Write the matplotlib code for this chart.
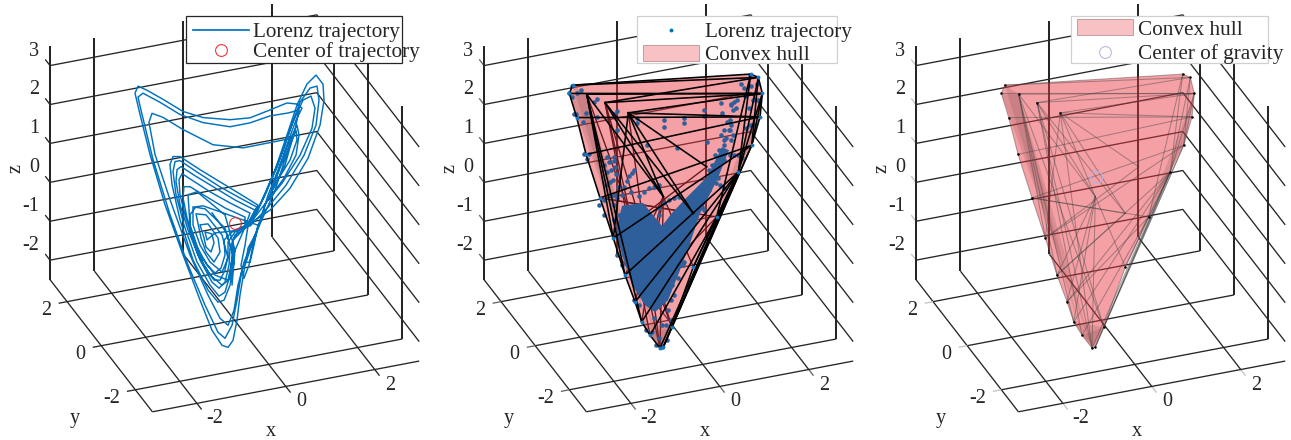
import matplotlib
matplotlib.use("Agg")
import matplotlib.pyplot as plt
from matplotlib.lines import Line2D
from matplotlib.patches import Patch, Rectangle
from matplotlib.transforms import Bbox, TransformedBbox
from mpl_toolkits.mplot3d import proj3d
from mpl_toolkits.mplot3d.art3d import Poly3DCollection

plt.rcParams['font.family'] = ['Liberation Serif', 'DejaVu Serif']

# ---- axis set-up values
x_ticks = [-2, 0, 2]
y_ticks = [-2, 0, 2]
z_ticks = [-2, -1, 0, 1, 2, 3]
x_lim = (-3, 3)
y_lim = (-3, 3)
z_lim = (-2.5, 3.5)

# ---- trajectory (read from the single view; depth y cannot be read, so y = 0)
traj_x = [.346,-.058,-.441,-.621,-.666,-.508,-.463,-.531,-.643,-.688,-.778,-.598,-.373,-.328,-.463,-.643,-.756,-.868,-.643,-.283,
          -.148,-.283,-.553,-.778,-.936,-.936,-.666,-.216,-.036,-.148,-.441,-.778,-1.003,-1.048,-.846,-.216,.009,-.058,-.036,.234,
          .234,-.216,-.666,-1.003,-1.139,-1.161,-1.071,-.868,-.621,-.441,-.306,-.216,-.238,-.058,.234,
          .346,-.103,-.553,-.936,-1.183,-1.250,-1.228,-1.116,-.936,-.688,-.463,-.328,-.216,-.148,-.148,.009,.301,
          .459,.009,-.441,-.891,-1.205,-1.295,-1.318,-1.228,-1.048,-.778,-.508,-.351,-.216,-.126,-.103,.009,.346,
          .504,.121,-.328,-.823,-1.228,-1.340,-1.385,-1.318,-1.139,-.846,-.553,-.351,-.216,-.103,-.058,-.036,.234,
          .526,.234,-.216,-.778,-1.228,-1.385,-1.453,-1.408,-1.228,-.936,-.598,-.373,-.238,-.103,-.013,-.036,.121,.391,
          .616,.909,1.178,1.403,1.628,1.831,1.988,2.011,1.921,1.651,1.246,.796,.391,
          .684,.976,1.246,1.471,1.696,1.853,1.898,1.831,1.561,1.156,.751,.346,
          .706,1.044,1.313,1.538,1.718,1.808,1.741,1.471,1.066,.661,.301,
          .234,.144,.211,.324,.414,.526,
          .751,1.021,1.246,1.403,1.448,1.381,1.111,.751,
          1.021,1.246,1.381,1.403,1.246,1.021,.841,1.133,1.381,1.516,1.403,
          1.178,.796,.346,-.103,-.711,-1.161,-1.611,-1.971,-2.173,-2.240,
          -2.128,-1.903,-1.566,-1.161,-.778,-.508,-.283,-.148,-.036,.054,.121,.234,.459,.684,1.133,1.358,1.448,
          1.201,.796,.346,-.103,-.711,-1.228,-1.678,-2.060,-2.173,-2.083,-1.835,-1.453,-1.048,-.666,-.373,-.216,-.058,.054,.166,.459,.909,1.201,1.291,
          .864,.189,-.486,-1.161,-1.611,-1.858,-1.926,-1.790,-1.453,-1.003,-.598,-.328,-.148,-.013,.076,.211,.459,
          .301,.256,.346,.436,.526,
          -.711,-.868,-1.003,-1.003,-.823,-.553,-.283,-.081,-.013,-.193,-.508]
traj_z = [-.103,-.193,-.159,-.299,-.083,-.170,-.412,-.628,-.474,-.232,.123,.109,-.303,-.674,-.902,-.603,-.217,.426,.350,-.246,
          -.869,-1.199,-.881,-.393,.158,.622,.510,-.081,-.816,-1.436,-1.242,-.650,.173,.956,.988,.254,-.698,-1.584,-.816,-.155,
          .103,.435,.845,1.152,1.182,.904,.368,-.373,-.943,-1.190,-1.091,-.776,-.385,-.219,-.155,
          .180,.539,.923,1.292,1.527,1.387,.996,.455,-.229,-.928,-1.366,-1.396,-1.163,-.791,-.456,-.234,-.144,
          .232,.591,1.000,1.410,1.712,1.655,1.351,.738,.054,-.779,-1.407,-1.597,-1.472,-1.054,-.621,-.311,-.129,
          .300,.618,1.001,1.473,1.872,1.871,1.624,1.016,.203,-.816,-1.473,-1.803,-1.730,-1.317,-.811,-.430,-.181,
          .346,.618,1.028,1.540,1.975,2.010,1.820,1.295,.352,-.744,-1.592,-1.953,-1.931,-1.574,-1.002,-.430,-.156,-.062,
          .455,1.163,2.005,2.727,3.218,3.405,3.138,2.721,2.097,1.306,.623,.157,-.062,
          .569,1.277,2.118,2.789,3.100,3.117,2.746,2.117,1.404,.722,.245,-.155,
          .641,1.520,2.309,2.826,2.889,2.560,2.059,1.424,.793,.316,-.144,
          -.619,-1.114,-1.464,-1.154,-.660,-.247,
          .554,1.267,1.860,2.212,1.944,1.444,.912,.425,
          1.190,1.731,2.088,1.825,1.345,.983,.663,1.628,2.346,2.625,2.753,
          2.830,2.734,2.628,2.678,2.865,3.120,3.530,3.842,3.990,3.825,
          3.258,2.178,.814,-.565,-1.810,-2.644,-3.081,-3.162,-3.007,-2.511,-1.882,-1.134,-.412,.311,1.242,2.093,2.588,
          2.567,2.580,2.499,2.497,2.736,3.057,3.468,3.785,3.707,3.248,2.034,.531,-.848,-1.964,-2.726,-2.915,-2.615,-1.996,-1.248,-.412,.648,1.613,1.902,
          1.895,1.891,2.118,2.656,3.066,3.224,3.007,2.153,.918,-.600,-1.721,-2.375,-2.595,-2.239,-1.614,-1.052,-.412,
          -.711,-1.062,-1.083,-.665,-.169,
          .597,.607,.430,-.008,-.640,-1.216,-1.534,-1.399,-.899,-.189,.371]
traj_y = [0.0] * len(traj_x)

# ---- dense core of the sampled trajectory (panel 2)
core_x = [-1.048,-.576,-.148,.076,.414,.864,1.201,1.358,1.089,.706,.481,.256,-.013,-.306,-.531,-.823,-1.048,-1.186]
core_z = [.672,.645,-.044,.241,.577,.993,1.691,1.577,.865,.090,-.623,-1.268,-1.981,-2.225,-1.994,-1.413,-.590,.032]

# ---- convex hull vertices
hull_x = [-2.157,-2.233,-2.067,-1.857,-1.543,-1.244,-.981,-.756,-.605,-.418,-.193,-.119,.070,.556,1.082,1.568,1.869,2.056,2.108,2.018,1.846,
          -1.842,-1.430,-.906,.857,-.119,.556]
hull_z = [4.013,3.816,3.160,2.168,.982,-.116,-1.121,-1.859,-2.408,-2.793,-3.170,-3.160,-2.688,-1.250,-.079,.972,1.592,2.281,2.872,3.304,3.427,
          3.711,3.405,3.029,1.259,.705,.126]
hull_y = [0.0] * len(hull_x)
hull_outline = [0,1,2,3,4,5,6,7,8,9,10,11,12,13,14,15,16,17,18,19,20]
hull_shade_faces = [(1,21,10), (0,21,9), (18,16,12), (17,15,11), (8,12,10), (9,12,11)]
hull_front_edges = [(0,20),(0,19),(1,18),(1,0),(22,18),(22,19),(23,18),(2,17),(23,17),(21,18),
                    (3,17),(4,16),(5,16),(6,15),(7,15),(8,15),(9,14),
                    (21,25),(21,6),(22,25),(22,26),(23,24),(23,26),(23,25),(23,5),(21,5),(21,8),
                    (1,2),(2,3),(3,4),(4,5),(5,6),(6,7),(7,8),(8,9),(9,10),(10,11),(11,12),(12,13),(13,14),(14,15),
                    (11,16),(12,15),(10,15),(11,15),(12,16),(13,15),
                    (15,19),(15,20),(15,18),(16,18),(16,19),(14,20),(16,17),(17,18),(18,19),(19,20)]
hull_back_edges = [(5,24),(4,26),(6,26),(7,14),(25,13),(8,25),(4,14),(6,25),(7,25),(21,12),(22,12),(22,10),(23,10),(25,10),(22,9)]

# ---- centres
traj_center = (0.0, 0.0, 0.0)
gravity_center = (-0.10, 0.0, 1.20)

# ---- labels
label_traj = 'Lorenz trajectory'
label_center = 'Center of trajectory'
label_hull = 'Convex hull'
label_gravity = 'Center of gravity'

FIG_W, FIG_H = 1291, 440
AX_PX = 430
OFFSETS = [0, 434, 866]
CLIP_R = [421, 857, 1288]
STUB = ['#262626', '#666666', '#c4c4c4']
INK = '#262626'
BLUE = '#0072BD'
HULL_FACE = (0.918, 0.208, 0.251, 0.47)
HULL_LEG = (0.918, 0.208, 0.251, 0.30)
FS_TICK = 14.6
FS_LEG = 15.3

fig = plt.figure(figsize=(FIG_W/100, FIG_H/100), dpi=100, facecolor='white')


def make_axes(o):
    cx, cy = 234.6 + o, 203.6
    left = cx - 0.5135*AX_PX
    bottom = cy + 0.5135*AX_PX
    ax = fig.add_axes([left/FIG_W, 1-bottom/FIG_H, AX_PX/FIG_W, AX_PX/FIG_H],
                      projection='3d', proj_type='ortho', computed_zorder=False)
    ax.patch.set_alpha(0)
    ax.set_xlim(*x_lim); ax.set_ylim(*y_lim); ax.set_zlim(*z_lim)
    ax.view_init(elev=29.7, azim=-111)
    asp = (1.0, 1.0, 44.8/47.63)
    ax.set_box_aspect(asp, zoom=1)
    L = ax._box_aspect[0]
    ax.set_box_aspect(asp, zoom=(47.63*6*1.85/AX_PX)/L)
    ax.set_axis_off()
    ax.apply_aspect()
    return ax


def screen(ax, x, y, z):
    X, Y, _ = proj3d.proj_transform(x, y, z, ax.get_proj())
    return ax.transData.transform((X, Y))


def put(ax, x, y, z, dx, dy, s, **kw):
    # dx, dy in pixels (dy downwards) from the projected tick position
    p = screen(ax, x, y, z)
    fig.text((p[0]+dx)/FIG_W, (p[1]-dy)/FIG_H, s, fontsize=FS_TICK, color=INK, **kw)


def grid(ax, o, clip_r, stub):
    clip = TransformedBbox(Bbox([[0, 0], [clip_r/FIG_W, 1]]), fig.transFigure)
    xa, xb = x_lim; ya, yb = y_lim; za, zb = z_lim
    def ln(X, Y, Z, lw=0.95, c=INK):
        l, = ax.plot(X, Y, Z, color=c, lw=lw, zorder=1, solid_capstyle='butt')
        l.set_clip_path(None); l.set_clip_box(clip); l.set_clip_on(True)
    for z in z_ticks:
        ln([xa, xb, xb], [yb, yb, ya], [z, z, z])
        ln([xa, xa], [yb, yb+0.28], [z, z], c=stub)
    for x in [xa] + x_ticks:
        ln([x, x], [yb, ya], [za, za])
    for x in x_ticks:
        ln([x, x], [ya, ya-0.28], [za, za], c=stub)
    for y in y_ticks + [ya]:
        ln([xa, xb], [y, y], [za, za])
    for y in y_ticks:
        ln([xa, xa-0.19], [y, y], [za, za], c=stub)
    for x in [xa] + x_ticks:
        ln([x, x], [yb, yb], [za, zb], lw=1.45)
    for y in y_ticks:
        ln([xb, xb], [y, y], [za, zb], lw=1.45)
    # tick labels and axis labels
    for z in z_ticks:
        put(ax, xa, yb, z, -11, -14.5, str(z), ha='right', va='center')
    for y in y_ticks:
        put(ax, xa, y, za, -15.5, 9, str(y), ha='right', va='center')
    for x in x_ticks:
        put(ax, x, ya, za, 15 if x > -2 else 18, 15.5, str(x), ha='center', va='center')
    fig.text((270.7+o)/FIG_W, 1-431/FIG_H, 'x', ha='center', va='center', fontsize=FS_TICK, color=INK)
    fig.text((75+o)/FIG_W, 1-418/FIG_H, 'y', ha='center', va='center', fontsize=FS_TICK, color=INK)
    fig.text((16+o)/FIG_W, 1-168/FIG_H, 'z', ha='center', va='center', rotation=90, fontsize=FS_TICK, color=INK)


def hull_vert(i):
    return (hull_x[i], hull_y[i], hull_z[i])


def draw_hull(ax, z=3):
    outline = [hull_vert(i) for i in hull_outline]
    ax.add_collection3d(Poly3DCollection([outline], facecolor=HULL_FACE, edgecolor='none', zorder=z))
    shade = [[hull_vert(i) for i in f] for f in hull_shade_faces]
    ax.add_collection3d(Poly3DCollection(shade, facecolor=(0.45, 0.25, 0.25, 0.18), edgecolor='none', zorder=z+0.1))


def draw_edges(ax, edges, **kw):
    for a, b in edges:
        ax.plot([hull_x[a], hull_x[b]], [hull_y[a], hull_y[b]], [hull_z[a], hull_z[b]], **kw)


def legend_box(rect, edge):
    x0, y0, x1, y1 = rect
    fig.add_artist(Rectangle((x0/FIG_W, 1-y1/FIG_H), (x1-x0)/FIG_W, (y1-y0)/FIG_H, transform=fig.transFigure,
                             facecolor='white', edgecolor=edge, lw=0.9, zorder=10))


def legend(handles, labels, x, y, pad, spacing):
    leg = fig.legend(handles, labels, loc='upper left', bbox_to_anchor=(x/FIG_W, 1-y/FIG_H),
                     bbox_transform=fig.transFigure, frameon=False, borderpad=0, borderaxespad=0,
                     fontsize=FS_LEG, handlelength=2.64, handleheight=0.73, handletextpad=pad,
                     labelspacing=spacing, labelcolor=INK)
    leg.set_zorder(11)


# ---------- panel 1
ax1 = make_axes(OFFSETS[0])
grid(ax1, OFFSETS[0], CLIP_R[0], STUB[0])
ax1.plot(traj_x, traj_y, traj_z, color=BLUE, lw=1.05, zorder=4, solid_joinstyle='round')
ax1.plot([traj_center[0]], [traj_center[1]], [traj_center[2]], ls='none', marker='o', mfc='none', mec='#EE2A30', ms=8.5, mew=0.75, zorder=5)
legend_box((186, 16, 402.3, 63.3), INK)
legend([Line2D([], [], color=BLUE, lw=1.25),
        Line2D([], [], ls='none', marker='o', mfc='none', mec='#EE2A30', ms=8.5, mew=0.75)],
       [label_traj, label_center], 192.7, 22, 0.2, 0.0)

# ---------- panel 2
ax2 = make_axes(OFFSETS[1])
grid(ax2, OFFSETS[1], CLIP_R[1], STUB[1])
draw_edges(ax2, hull_back_edges, color='black', lw=1.0, zorder=2)
draw_hull(ax2)
ax2.add_collection3d(Poly3DCollection([list(zip(core_x, [0.0]*len(core_x), core_z))], facecolor='#2E5F9A', edgecolor='none', zorder=5))
ax2.plot(traj_x, traj_y, traj_z, ls='none', marker='o', ms=3.3, mfc='#2E5F9A', mec='none', zorder=6)
draw_edges(ax2, hull_front_edges, color='black', lw=1.15, zorder=7)
ax2.plot(hull_x[:21], hull_y[:21], hull_z[:21], ls='none', marker='o', ms=2.8, mfc='#1477BE', mec='none', zorder=8)
legend_box((637.3, 16, 836.7, 63.3), '#D0D0D0')
legend([Line2D([], [], ls='none', marker='o', ms=2.8, mfc=BLUE, mec='none'),
        Patch(facecolor=HULL_LEG, edgecolor='#C09090', lw=0.6)],
       [label_traj, label_hull], 643.3, 22, 0.28, 0.15)

# ---------- panel 3
ax3 = make_axes(OFFSETS[2])
grid(ax3, OFFSETS[2], CLIP_R[2], STUB[2])
draw_hull(ax3)
draw_edges(ax3, hull_back_edges + hull_front_edges, color='#404040', alpha=0.42, lw=0.75, zorder=6)
ax3.plot(hull_x[:24], hull_y[:24], hull_z[:24], ls='none', marker='o', ms=1.8, mfc='black', mec='none', zorder=7)
ax3.plot([gravity_center[0]], [gravity_center[1]], [gravity_center[2]], ls='none', marker='o', mfc='none', mec='#B4B4E6', ms=8.5, mew=0.75, zorder=8)
legend_box((1071.3, 16, 1268.3, 63.3), '#D0D0D0')
legend([Patch(facecolor=HULL_LEG, edgecolor='#C09090', lw=0.6),
        Line2D([], [], ls='none', marker='o', mfc='none', mec='#B4B4E6', ms=8.5, mew=0.75)],
       [label_hull, label_gravity], 1077.3, 19.5, 0.2, 0.22)

fig.savefig('out.png', dpi=100)
